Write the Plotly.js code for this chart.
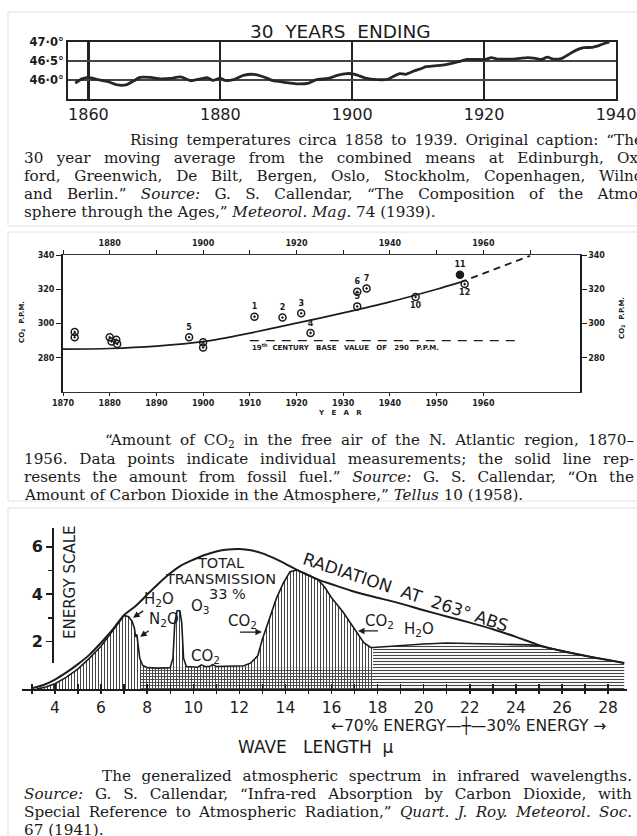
<!DOCTYPE html>
<html><head><meta charset="utf-8">
<script src="https://cdn.plot.ly/plotly-3.0.1.min.js"></script>
<style>html,body{margin:0;padding:0;background:#fff;} #chart{width:637px;height:836px;}</style>
</head><body><div id="chart"></div>
<script>
// ---------- Panel 1: 30-year moving average temperature ----------
const tempYears = [1858.0, 1859.0, 1860.0, 1861.4, 1862.9, 1864.4, 1865.7, 1866.9, 1867.8, 1869.4, 1870.9, 1872.4, 1874.0, 1875.5, 1877.0, 1878.0, 1878.9, 1880.0, 1880.7, 1882.0, 1883.5, 1885.0, 1886.6, 1888.0, 1889.7, 1891.5, 1893.4, 1894.6, 1896.4, 1897.7, 1899.2, 1900.4, 1902.0, 1903.8, 1905.4, 1906.3, 1907.2, 1908.1, 1909.4, 1910.6, 1911.2, 1912.4, 1913.7, 1914.9, 1916.1, 1917.4, 1918.9, 1920.2, 1921.1, 1922.0, 1923.2, 1924.2, 1925.4, 1926.6, 1927.8, 1928.7, 1929.6, 1930.5, 1931.8, 1932.7, 1933.9, 1935.1, 1936.4, 1937.6, 1938.6, 1939.0];
const tempDeg = [45.92, 46.03, 46.07, 46.01, 45.96, 45.87, 45.87, 45.98, 46.07, 46.07, 46.03, 46.04, 46.08, 45.98, 46.03, 46.06, 45.99, 46.05, 45.99, 46.01, 46.12, 46.15, 46.08, 45.98, 45.94, 45.90, 45.92, 46.01, 46.04, 46.12, 46.17, 46.15, 46.05, 46.01, 46.02, 46.10, 46.17, 46.15, 46.24, 46.31, 46.35, 46.37, 46.39, 46.43, 46.48, 46.54, 46.54, 46.54, 46.59, 46.55, 46.55, 46.55, 46.57, 46.59, 46.57, 46.54, 46.60, 46.55, 46.57, 46.66, 46.78, 46.85, 46.86, 46.92, 46.98, 47.0];
const tempXTicks = [1860, 1880, 1900, 1920, 1940];
const tempYTicks = [46.0, 46.5, 47.0];
const tempYLabels = ['46·0°', '46·5°', '47·0°'];

// ---------- Panel 2: CO2 in the N. Atlantic ----------
const fuelYears = [1870, 1880, 1890, 1900, 1910, 1920, 1930, 1940, 1950, 1955];
const fuelPpm = [285, 285.4, 286.8, 289.4, 294.4, 300.2, 306.2, 312.6, 320, 324];
const trendYears = [1955, 1970];
const trendPpm = [324, 339.5];
const baseYears = [1910, 1968];
const basePpm = [290, 290];
const measYears = [1872.5, 1872.5, 1880, 1880.4, 1881.4, 1881.6, 1897, 1900, 1900, 1911, 1917, 1921, 1923, 1933, 1933, 1935, 1945.5, 1955, 1956];
const measPpm = [295, 292, 292, 289.5, 290.5, 288, 292, 289, 286, 304, 303.5, 306, 294.5, 310, 318.5, 320.5, 315.5, 328.5, 323];
const measLabels = ['', '', '', '', '', '', '5', '', '', '1', '2', '3', '4', '5', '6', '7', '10', '11', '12'];
const co2BottomTicks = [1870, 1880, 1890, 1900, 1910, 1920, 1930, 1940, 1950, 1960];
const co2TopTicks = [1870, 1880, 1890, 1900, 1910, 1920, 1930, 1940, 1950, 1960, 1970];
const co2TopLabels = ['', '1880', '', '1900', '', '1920', '', '1940', '', '1960', ''];
const co2YTicks = [280, 300, 320, 340];

// ---------- Panel 3: infrared spectrum ----------
const envWl = [3.0, 3.5, 4, 4.5, 5, 5.5, 6, 6.5, 7, 7.5, 8, 8.5, 9, 9.5, 10, 10.5, 11, 11.5, 12, 12.5, 13, 13.5, 14, 14.5, 15, 15.5, 16, 17, 18, 19, 20, 21, 22, 23, 24, 25, 26, 27, 28, 28.7];
const envE = [0.03, 0.17, 0.4, 0.7, 1.05, 1.45, 1.95, 2.5, 3.12, 3.5, 3.98, 4.45, 4.88, 5.22, 5.45, 5.65, 5.8, 5.88, 5.9, 5.85, 5.72, 5.52, 5.28, 5.02, 4.8, 4.58, 4.42, 4.1, 3.85, 3.6, 3.32, 3.06, 2.8, 2.52, 2.2, 1.85, 1.6, 1.4, 1.22, 1.1];
const absWl = [3.2, 3.6, 4, 4.5, 5, 5.5, 6, 6.5, 6.8, 7.0, 7.2, 7.35, 7.45, 7.5, 7.55, 7.6, 7.68, 7.8, 8.0, 8.5, 9.0, 9.12, 9.2, 9.3, 9.42, 9.5, 9.58, 9.7, 10.2, 10.35, 10.5, 10.7, 10.85, 11.0, 11.5, 12.2, 12.5, 12.8, 13.0, 13.3, 13.6, 13.9, 14.2, 14.5, 15.0, 15.4, 15.7, 16.0, 16.5, 17.0, 17.4, 17.7, 17.8];
const absE = [0, 0.08, 0.22, 0.5, 0.85, 1.3, 1.8, 2.45, 2.85, 3.1, 3.05, 2.85, 2.55, 2.2, 2.3, 1.9, 1.3, 1.0, 0.9, 0.88, 0.9, 1.3, 2.8, 3.3, 3.3, 2.8, 1.3, 0.95, 0.92, 1.02, 0.95, 0.95, 1.03, 0.95, 0.95, 0.98, 1.1, 1.4, 2.1, 3.0, 3.8, 4.45, 4.95, 5.02, 4.8, 4.62, 4.3, 3.85, 3.25, 2.5, 1.95, 1.75, 1.75];
const farWl = [17.8, 18.5, 19, 20, 21, 22, 23, 24, 24.6, 25, 26, 27, 28, 28.7];
const farE = [1.75, 1.8, 1.86, 1.9, 1.94, 1.93, 1.9, 1.87, 1.86, 1.82, 1.6, 1.4, 1.22, 1.1];
const contWl = [7.7, 17.8];
const contE = [0.9, 0.9];
const wlTicks = [3, 4, 5, 6, 7, 8, 9, 10, 11, 12, 13, 14, 15, 16, 17, 18, 19, 20, 21, 22, 23, 24, 25, 26, 27, 28];
const wlLabels = wlTicks.map(v => (v % 2 === 0 ? String(v) : ''));
const energyTicks = [2, 4, 6];
const energyMinor = [3, 5];

// ---------- helpers ----------
const P = x => x / 637;
const Q = y => 1 - y / 836;
const SANS = 'DejaVu Sans';
const SERIF = 'DejaVu Serif';
const INK = '#1c1c1c';

const traces = [
  // panel 1
  {x: tempYears, y: tempDeg, xaxis: 'x', yaxis: 'y', mode: 'lines',
   line: {color: '#262626', width: 2.8, shape: 'spline', smoothing: 0.6}, hoverinfo: 'skip'},
  // panel 2
  {x: fuelYears, y: fuelPpm, xaxis: 'x2', yaxis: 'y2', mode: 'lines',
   line: {color: INK, width: 1.7, shape: 'spline', smoothing: 0.8}, hoverinfo: 'skip'},
  {x: trendYears, y: trendPpm, xaxis: 'x2', yaxis: 'y2', mode: 'lines',
   line: {color: INK, width: 1.7, dash: '7px,5px'}, hoverinfo: 'skip'},
  {x: baseYears, y: basePpm, xaxis: 'x2', yaxis: 'y2', mode: 'lines',
   line: {color: INK, width: 1.3, dash: '9px,7px'}, hoverinfo: 'skip'},
  {x: measYears, y: measPpm, xaxis: 'x2', yaxis: 'y2', mode: 'markers+text',
   text: measLabels,
   textposition: measLabels.map(l => (l === '10' || l === '12') ? 'bottom center' : 'top center'),
   textfont: {family: SANS, size: 8, color: INK, weight: 'bold'},
   marker: {symbol: measLabels.map(l => l === '11' ? 'circle' : 'circle-open-dot'), size: 7,
            color: INK, line: {color: INK, width: 1.5}}, hoverinfo: 'skip'},
  {x: [], y: [], xaxis: 'x4', yaxis: 'y2', mode: 'lines', hoverinfo: 'skip'},
  {x: [], y: [], xaxis: 'x2', yaxis: 'y4', mode: 'lines', hoverinfo: 'skip'},
  // panel 3
  {x: absWl, y: absE, xaxis: 'x3', yaxis: 'y3', mode: 'lines', fill: 'tozeroy',
   fillcolor: '#ffffff',
   fillpattern: {shape: '|', size: 3, solidity: 0.34, fgcolor: '#444', bgcolor: '#ffffff'},
   line: {color: INK, width: 1.6}, hoverinfo: 'skip'},
  {x: farWl, y: farE, xaxis: 'x3', yaxis: 'y3', mode: 'lines', fill: 'tozeroy',
   fillcolor: '#ffffff',
   fillpattern: {shape: '-', size: 3, solidity: 0.36, fgcolor: '#444', bgcolor: '#ffffff'},
   line: {color: INK, width: 1.6}, hoverinfo: 'skip'},
  {x: contWl, y: contE, xaxis: 'x3', yaxis: 'y3', mode: 'lines', fill: 'tozeroy',
   fillcolor: 'rgba(0,0,0,0)',
   fillpattern: {shape: '-', size: 3, solidity: 0.3, fgcolor: '#444', bgcolor: 'rgba(0,0,0,0)'},
   line: {width: 0}, hoverinfo: 'skip'},
  {x: envWl, y: envE, xaxis: 'x3', yaxis: 'y3', mode: 'lines',
   line: {color: INK, width: 2, shape: 'spline', smoothing: 0.7}, hoverinfo: 'skip'},
  {x: [], y: [], xaxis: 'x5', yaxis: 'y3', mode: 'lines', hoverinfo: 'skip'},
  {x: [], y: [], xaxis: 'x3', yaxis: 'y5', mode: 'lines', hoverinfo: 'skip'}
];

const annotations = [];
const justify = [];
function cap(text, x, y, right) {
  annotations.push({xref: 'paper', yref: 'paper', x: P(x), y: Q(y), xanchor: 'left', yanchor: 'middle',
    align: 'left', showarrow: false, text: text, font: {family: SERIF, size: 15.2, color: '#1a1a1a'}});
  if (right) justify.push({i: annotations.length - 1, w: right - x});
}
function lab(text, x, y, size, extra) {
  annotations.push(Object.assign({xref: 'paper', yref: 'paper', x: P(x), y: Q(y), xanchor: 'center',
    yanchor: 'middle', showarrow: false, text: text, font: {family: SANS, size: size, color: INK}}, extra || {}));
}
function dlab(text, wl, e, size, extra) {
  annotations.push(Object.assign({xref: 'x3', yref: 'y3', x: wl, y: e, xanchor: 'center',
    yanchor: 'middle', showarrow: false, text: text, font: {family: SANS, size: size, color: INK}}, extra || {}));
}
function arrow(wl, e, ax, ay, text) {
  annotations.push({xref: 'x3', yref: 'y3', x: wl, y: e, ax: ax, ay: ay, text: text || ' ',
    showarrow: true, arrowhead: 2, arrowsize: 1, arrowwidth: 1.3, arrowcolor: INK, standoff: 0,
    font: {family: SANS, size: 15, color: INK}});
}
const bold7 = {family: SANS, size: 7, color: INK, weight: 'bold'};

// panel 1 labels and caption
lab('30\u00a0 YEARS\u00a0 ENDING', 341, 32, 18.5);
cap('Rising temperatures circa 1858 to 1939. Original caption: “The', 128, 140, 641);
cap('30 year moving average from the combined means at Edinburgh, Ox-', 22, 158, 641);
cap('ford, Greenwich, De Bilt, Bergen, Oslo, Stockholm, Copenhagen, Wilno', 22, 176, 641);
cap('and Berlin.” <i>Source:</i> G. S. Callendar, “The Composition of the Atmo-', 22, 194, 641);
cap('sphere through the Ages,” <i>Meteorol. Mag.</i> 74 (1939).', 22, 212);

// panel 2 labels and caption
lab('CO<sub>2</sub>\u00a0\u00a0P.P.M.', 22, 322, 7, {textangle: -90, font: bold7});
lab('CO<sub>2</sub>\u00a0\u00a0P.P.M.', 622, 318, 7, {textangle: -90, font: bold7});
lab('Y\u00a0\u00a0\u00a0E\u00a0\u00a0\u00a0A\u00a0\u00a0\u00a0R', 340, 413, 7, {font: bold7});
annotations.push({xref: 'x2', yref: 'y2', x: 1910, y: 286, xanchor: 'left', yanchor: 'middle', showarrow: false,
  text: '19<sup>th</sup>\u00a0\u00a0CENTURY\u00a0\u00a0\u00a0BASE\u00a0\u00a0\u00a0VALUE\u00a0\u00a0\u00a0OF\u00a0\u00a0\u00a0290\u00a0\u00a0\u00a0P.P.M.',
  font: bold7});
cap('“Amount of CO<sub>2</sub> in the free air of the N. Atlantic region, 1870–', 103, 441, 632);
cap('1956. Data points indicate individual measurements; the solid line rep-', 22, 459, 632);
cap('resents the amount from fossil fuel.” <i>Source:</i> G. S. Callendar, “On the', 22, 477, 632);
cap('Amount of Carbon Dioxide in the Atmosphere,” <i>Tellus</i> 10 (1958).', 22, 495);

// panel 3 labels
lab('ENERGY SCALE', 70, 582, 15, {textangle: -90});
dlab('TOTAL', 11.2, 5.3, 14.5);
dlab('TRANSMISSION', 11.2, 4.63, 14.5);
dlab('33 %', 11.5, 4.0, 14.5);
arrow(7.39, 3.0, 26, -18, 'H<sub>2</sub>O');
arrow(7.7, 2.2, 24, -17, 'N<sub>2</sub>O');
dlab('O<sub>3</sub>', 10.3, 3.46, 15);
dlab('CO<sub>2</sub>', 12.12, 2.83, 15);
arrow(12.98, 2.4, -26, 0);
dlab('CO<sub>2</sub>', 10.51, 1.35, 15);
dlab('CO<sub>2</sub>', 18.1, 2.83, 15);
arrow(17.15, 2.45, 24, 0);
dlab('H<sub>2</sub>O', 19.8, 2.5, 15);
arrow(18.84, 1.94, 0, -11);
dlab('RADIATION\u00a0\u00a0AT\u00a0\u00a0263°\u00a0ABS', 19.2, 4.08, 17, {textangle: 18.5});
lab('←70% ENERGY\u2014\u253C\u201430% ENERGY →', 468, 725, 15.5);
lab('WAVE\u00a0\u00a0\u00a0LENGTH\u00a0\u00a0μ', 315, 747, 17);
cap('The generalized atmospheric spectrum in infrared wavelengths.', 100, 776, 630);
cap('<i>Source:</i> G. S. Callendar, “Infra-red Absorption by Carbon Dioxide, with', 22, 794, 630);
cap('Special Reference to Atmospheric Radiation,” <i>Quart. J. Roy. Meteorol. Soc.</i>', 22, 812, 630);
cap('67 (1941).', 22, 830);

const card = (y0, y1) => ({type: 'rect', xref: 'paper', yref: 'paper', x0: P(8), x1: P(645),
  y0: Q(y1), y1: Q(y0), line: {color: '#e2e2e2', width: 1}, fillcolor: 'rgba(0,0,0,0)', layer: 'below'});

const tickFont2 = {family: SANS, size: 8, color: INK, weight: 'bold'};

const layout = {
  width: 637, height: 836, margin: {l: 0, r: 0, t: 0, b: 0},
  paper_bgcolor: '#ffffff', plot_bgcolor: 'rgba(0,0,0,0)', showlegend: false,
  font: {family: SANS, color: INK},
  shapes: [card(12, 226), card(232, 501), card(508, 845)],
  annotations: annotations,
  // panel 1
  xaxis: {domain: [P(68), P(616)], range: [1856.9, 1940], anchor: 'y', tickvals: tempXTicks,
    ticktext: tempXTicks.map(String), tickfont: {family: SANS, size: 16, color: INK}, ticks: '',
    showgrid: true, gridcolor: '#222', gridwidth: 2.2, showline: true, mirror: true, linecolor: '#222',
    linewidth: 2, zeroline: false, fixedrange: true},
  yaxis: {domain: [Q(99), Q(42)], range: [45.5, 47.0], anchor: 'x', tickvals: tempYTicks,
    ticktext: tempYLabels, tickfont: {family: SANS, size: 11.5, color: INK, weight: 'bold'}, ticks: '',
    showgrid: true, gridcolor: '#444', gridwidth: 1.2, showline: true, mirror: true, linecolor: '#222',
    linewidth: 2, zeroline: false, fixedrange: true},
  // panel 2
  xaxis2: {domain: [P(63), P(580)], range: [1870, 1980.7], anchor: 'y2', tickvals: co2BottomTicks,
    ticktext: co2BottomTicks.map(String), tickfont: tickFont2, ticks: 'outside', ticklen: 3,
    tickcolor: INK, showline: true, linecolor: '#333', linewidth: 1.4, showgrid: false, zeroline: false},
  xaxis4: {overlaying: 'x2', side: 'top', anchor: 'y2', range: [1870, 1980.7], tickvals: co2TopTicks,
    ticktext: co2TopLabels, tickfont: tickFont2, ticks: 'outside', ticklen: 4, tickcolor: INK,
    showline: true, linecolor: '#333', linewidth: 1.4, showgrid: false, zeroline: false},
  yaxis2: {domain: [Q(392), Q(255)], range: [260, 340], anchor: 'x2', tickvals: co2YTicks,
    ticktext: co2YTicks.map(String), tickfont: tickFont2, ticks: 'outside', ticklen: 5, tickcolor: INK,
    showline: true, linecolor: INK, linewidth: 2, showgrid: false, zeroline: false},
  yaxis4: {overlaying: 'y2', side: 'right', anchor: 'x2', range: [260, 340], tickvals: co2YTicks,
    ticktext: co2YTicks.map(String), tickfont: tickFont2, ticks: 'outside', ticklen: 5, tickcolor: INK,
    showline: true, linecolor: INK, linewidth: 1.6, showgrid: false, zeroline: false},
  // panel 3
  xaxis3: {domain: [P(22), P(627)], range: [2.57, 28.82], anchor: 'y3', tickvals: wlTicks,
    ticktext: wlLabels, tickfont: {family: SANS, size: 15.5, color: INK}, ticks: 'outside', ticklen: 3,
    tickwidth: 1.4, tickcolor: INK, showline: true, linecolor: INK, linewidth: 2, showgrid: false,
    zeroline: false},
  xaxis5: {overlaying: 'x3', anchor: 'y3', range: [2.57, 28.82], tickvals: wlTicks, showticklabels: false,
    ticks: 'inside', ticklen: 5, tickwidth: 1.4, tickcolor: INK, showline: false, showgrid: false,
    zeroline: false},
  yaxis3: {domain: [Q(689), Q(528)], range: [0, 6.79], anchor: 'x3', visible: false},
  yaxis5: {domain: [Q(663), Q(528)], range: [1.1, 6.79], anchor: 'free', position: P(53),
    tickvals: energyTicks, ticktext: energyTicks.map(String),
    tickfont: {family: SANS, size: 16, color: INK, weight: 'bold'}, ticks: 'outside', ticklen: 6,
    tickwidth: 1.6, tickcolor: INK, minor: {tickvals: energyMinor, ticks: 'outside', ticklen: 4, tickcolor: INK},
    showline: true, linecolor: INK, linewidth: 2.2, showgrid: false, zeroline: false}
};

Plotly.newPlot('chart', traces, layout, {staticPlot: true}).then(gd => {
  justify.forEach(j => {
    const g = gd.querySelector('g.annotation[data-index="' + j.i + '"]') || gd.querySelectorAll('g.annotation')[j.i];
    if (!g) return;
    const t = g.querySelector('text.annotation-text');
    if (!t) return;
    const b0 = t.getBBox();
    const gaps = (t.textContent.match(/ /g) || []).length;
    if (!gaps) return;
    t.style.wordSpacing = ((j.w - b0.width) / gaps) + 'px';
    const b1 = t.getBBox();
    t.setAttribute('transform', 'translate(' + (b0.x - b1.x) + ',0)');
  });
});
</script>
</body></html>
